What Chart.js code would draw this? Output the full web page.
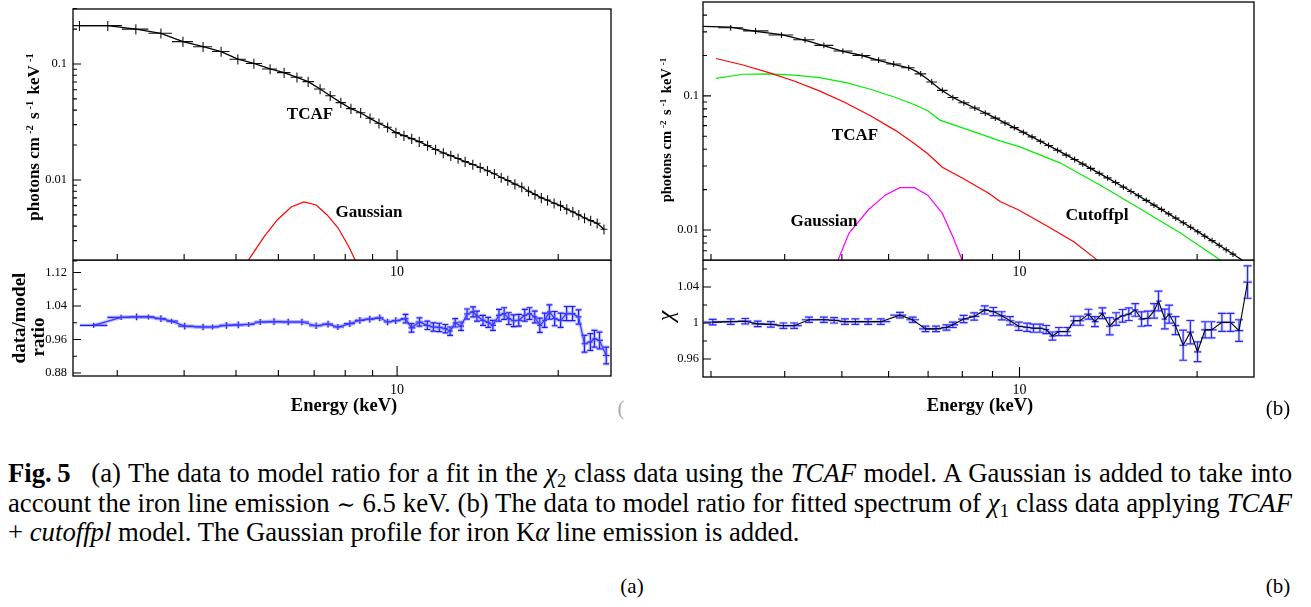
<!DOCTYPE html>
<html><head><meta charset="utf-8">
<script src="https://cdn.jsdelivr.net/npm/chart.js@4.4.1/dist/chart.umd.min.js"></script>
<style>
html,body{margin:0;padding:0;background:#fff;}
body{width:1311px;height:607px;overflow:hidden;position:relative;font-family:'Liberation Serif','Times New Roman',serif;color:#000;}
canvas{position:absolute;}
.t{position:absolute;white-space:nowrap;transform:translate(-50%,-50%);line-height:1;}
.r{transform:translate(-50%,-50%) rotate(-90deg);}
.b{font-weight:bold;}
.cap{position:absolute;left:8px;white-space:nowrap;font-size:22px;}
.sim{font-family:'DejaVu Serif',serif;font-size:0.85em;}
sup{font-size:0.62em;vertical-align:0.55em;margin-left:3px;margin-right:2px;}
sub{font-size:0.7em;vertical-align:-0.25em;}
</style></head><body>
<canvas id="aU" width="620" height="290" style="left:0px;top:0px;width:620px;height:290px"></canvas>
<canvas id="aL" width="620" height="160" style="left:0px;top:260px;width:620px;height:160px"></canvas>
<canvas id="bU" width="615" height="290" style="left:650px;top:0px;width:615px;height:290px"></canvas>
<canvas id="bL" width="615" height="160" style="left:650px;top:260px;width:615px;height:160px"></canvas>

<div class="t r b" style="left:33px;top:136px;font-size:17px;">photons cm<sup>-2</sup> s<sup>-1</sup> keV<sup>-1</sup></div>
<div class="t r b" style="left:17.5px;top:318px;font-size:19px;">data/model</div>
<div class="t r b" style="left:37px;top:337px;font-size:19px;">ratio</div>
<div class="t b" style="left:310px;top:113px;font-size:17px;">TCAF</div>
<div class="t b" style="left:369px;top:211px;font-size:17px;">Gaussian</div>
<div class="t b" style="left:344px;top:405px;font-size:18.5px;">Energy (keV)</div>
<div class="t" style="left:621px;top:408px;font-size:21px;color:#aaa;">(</div>

<div class="t r b" style="left:666px;top:129px;font-size:14.5px;">photons cm<sup>-2</sup> s<sup>-1</sup> keV<sup>-1</sup></div>
<div class="t r" style="left:665px;top:316px;font-size:24px;font-style:italic;">χ</div>
<div class="t b" style="left:855px;top:134px;font-size:17px;">TCAF</div>
<div class="t b" style="left:824px;top:220px;font-size:17px;">Gaussian</div>
<div class="t b" style="left:1097px;top:215px;font-size:17.5px;">Cutoffpl</div>
<div class="t b" style="left:980px;top:405px;font-size:18.5px;">Energy (keV)</div>
<div class="t" style="left:1278px;top:408px;font-size:21px;">(b)</div>

<div class="cap" id="c1"><b>Fig.&thinsp;5</b>&ensp; (a) The data to model ratio for a fit in the <i>χ</i><sub>2</sub> class data using the <i>TCAF</i> model. A Gaussian is added to take into</div>
<div class="cap" id="c2">account the iron line emission <span class="sim">∼</span> 6.5 keV. (b) The data to model ratio for fitted spectrum of <i>χ</i><sub>1</sub> class data applying <i>TCAF</i></div>
<div class="cap" id="c3">+ <i>cutoffpl</i> model. The Gaussian profile for iron K<i>α</i> line emission is added.</div>

<div class="t" style="left:632px;top:586px;font-size:21px;">(a)</div>
<div class="t" style="left:1278px;top:586px;font-size:21px;">(b)</div>

<script>
// ---------- DATA ----------
// Panel (a), upper: unfolded spectrum, TCAF + Gaussian
const energyA = [2.55, 2.88, 3.25, 3.62, 3.98, 4.34, 4.69, 5.04, 5.40, 5.79, 6.15, 6.50, 6.82, 7.18, 7.50, 7.85, 8.20, 8.55, 8.90, 9.25, 9.60, 9.95, 10.30, 10.65, 11.00, 11.40, 11.80, 12.20, 12.60, 13.00, 13.40, 13.85, 14.30, 14.75, 15.20, 15.65, 16.10, 16.60, 17.10, 17.60, 18.10, 18.60, 19.10, 19.65, 20.20, 20.75, 21.30, 21.85, 22.40, 23.00, 23.65, 24.35];
const fluxA = [0.214, 0.214, 0.200, 0.184, 0.156, 0.141, 0.128, 0.110, 0.101, 0.0906, 0.0842, 0.0768, 0.0704, 0.0609, 0.0533, 0.0464, 0.0412, 0.0380, 0.0340, 0.0308, 0.0285, 0.0256, 0.0241, 0.0227, 0.0214, 0.0198, 0.0183, 0.0171, 0.0162, 0.0153, 0.0144, 0.0136, 0.0128, 0.0120, 0.0113, 0.0105, 0.0099, 0.0092, 0.0087, 0.0080, 0.0075, 0.0070, 0.0067, 0.0063, 0.0060, 0.0056, 0.0053, 0.0050, 0.0047, 0.00446, 0.00423, 0.00376];
const fluxRelErrA = 0.10;
const gaussAE = [5.20, 5.31, 5.64, 5.97, 6.34, 6.70, 7.06, 7.40, 7.76, 8.13, 8.31, 8.45];
const gaussAF = [0.0018, 0.00213, 0.00323, 0.00452, 0.00585, 0.00646, 0.00608, 0.00499, 0.00385, 0.00264, 0.00213, 0.0018];

// Panel (a), lower: data/model ratio
const ratioAE = [2.71, 3.05, 3.26, 3.43, 3.62, 3.79, 4.01, 4.34, 4.52, 4.80, 5.05, 5.28, 5.55, 5.89, 6.26, 6.64, 7.06, 7.43, 7.75, 8.16, 8.52, 8.89, 9.28, 9.60, 9.94, 10.37, 10.64, 11.01, 11.39, 11.69, 11.99, 12.31, 12.56, 12.84, 13.17, 13.51, 13.87, 14.10, 14.47, 14.80, 15.10, 15.50, 15.85, 16.17, 16.51, 16.88, 17.32, 17.68, 18.08, 18.48, 18.87, 19.26, 19.70, 20.21, 20.74, 21.27, 21.83, 22.39, 22.97, 23.37, 23.89, 24.59];
const ratioA = [0.994, 1.013, 1.014, 1.014, 1.010, 1.004, 0.992, 0.990, 0.990, 0.994, 0.995, 0.996, 1.002, 1.003, 1.002, 1.002, 0.993, 0.997, 0.990, 0.998, 1.006, 1.009, 1.012, 1.002, 1.005, 1.010, 0.988, 1.002, 0.994, 0.990, 0.989, 0.986, 0.980, 1.000, 0.992, 1.021, 1.026, 1.016, 1.006, 1.001, 0.994, 1.018, 1.022, 1.010, 1.005, 1.006, 1.018, 1.022, 1.014, 0.994, 1.006, 1.026, 1.010, 1.006, 1.022, 1.022, 1.014, 0.950, 0.954, 0.962, 0.958, 0.922];
const ratioAErr = [0.006, 0.006, 0.008, 0.006, 0.008, 0.006, 0.008, 0.008, 0.006, 0.008, 0.008, 0.006, 0.007, 0.008, 0.008, 0.008, 0.008, 0.008, 0.007, 0.008, 0.008, 0.008, 0.008, 0.008, 0.008, 0.010, 0.010, 0.010, 0.010, 0.010, 0.010, 0.010, 0.010, 0.010, 0.010, 0.012, 0.012, 0.012, 0.012, 0.012, 0.012, 0.014, 0.014, 0.014, 0.014, 0.014, 0.014, 0.014, 0.014, 0.017, 0.017, 0.017, 0.017, 0.017, 0.017, 0.017, 0.017, 0.020, 0.020, 0.020, 0.020, 0.020];

// Panel (b), upper: data, total model and components
const energyBu = [3.24, 3.57, 3.95, 4.33, 4.66, 5.02, 5.41, 5.77, 6.12, 6.49, 6.80, 7.10, 7.40, 7.71, 8.05, 8.40, 8.75, 9.10, 9.45, 9.80, 10.15, 10.50, 10.85, 11.20, 11.60, 12.00, 12.40, 12.80, 13.20, 13.65, 14.10, 14.55, 15.00, 15.45, 15.90, 16.40, 16.90, 17.40, 17.90, 18.40, 18.95, 19.50, 20.05, 20.60, 21.20, 21.80, 22.40, 23.00];
const fluxBu = [0.322, 0.305, 0.284, 0.262, 0.238, 0.216, 0.200, 0.185, 0.173, 0.162, 0.146, 0.127, 0.110, 0.0972, 0.0888, 0.0812, 0.0743, 0.0683, 0.0628, 0.0580, 0.0536, 0.0495, 0.0459, 0.0427, 0.0393, 0.0362, 0.0336, 0.0310, 0.0288, 0.0265, 0.0245, 0.0226, 0.0209, 0.0194, 0.0180, 0.01665, 0.01535, 0.01426, 0.0132, 0.01227, 0.01133, 0.0105, 0.0097, 0.0090, 0.00834, 0.0077, 0.00713, 0.00662];
const fluxRelErrB = 0.05;
const modelBE = [2.91, 3.24, 3.57, 3.95, 4.40, 4.70, 5.02, 5.41, 5.77, 6.12, 6.49, 6.71, 6.99, 7.34, 7.71, 8.10, 8.45, 8.88, 9.27, 9.72, 10.58, 11.57, 12.57, 13.80, 15.32, 16.91, 18.68, 20.46, 22.78, 23.37, 23.80];
const modelBF = [0.330, 0.325, 0.303, 0.286, 0.255, 0.234, 0.215, 0.200, 0.184, 0.172, 0.162, 0.151, 0.133, 0.112, 0.0972, 0.0876, 0.0802, 0.0721, 0.0656, 0.0590, 0.0487, 0.0396, 0.0325, 0.0258, 0.0199, 0.01535, 0.01177, 0.0092, 0.0068, 0.00632, 0.0060];
const tcafBE = [3.06, 3.40, 3.76, 4.15, 4.58, 5.06, 5.59, 6.17, 6.64, 6.99, 7.40, 8.04, 8.88, 9.27, 9.97, 11.19, 12.36, 13.40, 13.70];
const tcafBF = [0.190, 0.170, 0.149, 0.129, 0.109, 0.0892, 0.0711, 0.0551, 0.0439, 0.0370, 0.0294, 0.0241, 0.0187, 0.0163, 0.0141, 0.0106, 0.00818, 0.0062, 0.0057];
const cutBE = [3.06, 3.40, 3.76, 4.15, 4.58, 5.06, 5.59, 6.17, 6.64, 6.99, 7.33, 8.57, 9.27, 10.02, 11.71, 13.69, 16.01, 18.71, 21.61, 22.00];
const cutBF = [0.135, 0.145, 0.146, 0.143, 0.137, 0.126, 0.112, 0.0972, 0.0858, 0.0774, 0.0660, 0.0521, 0.0462, 0.0417, 0.0317, 0.0217, 0.0144, 0.00955, 0.00622, 0.0058];
const gaussBE = [4.90, 4.94, 5.14, 5.54, 5.92, 6.27, 6.64, 6.99, 7.40, 7.71, 7.97, 8.01];
const gaussBF = [0.0056, 0.00616, 0.00946, 0.0141, 0.0182, 0.0207, 0.0207, 0.0182, 0.0133, 0.0089, 0.00616, 0.0056];

// Panel (b), lower: chi
const ratioBE = [3.02, 3.24, 3.43, 3.60, 3.79, 3.98, 4.15, 4.40, 4.66, 4.85, 5.06, 5.27, 5.54, 5.82, 6.27, 6.59, 6.93, 7.22, 7.52, 7.71, 8.04, 8.38, 8.73, 9.03, 9.33, 9.64, 9.97, 10.30, 10.56, 10.83, 11.10, 11.37, 11.66, 12.05, 12.36, 12.67, 13.09, 13.42, 13.82, 14.22, 14.58, 14.95, 15.32, 15.71, 16.10, 16.50, 16.91, 17.20, 17.63, 17.93, 18.38, 18.94, 19.48, 20.03, 20.63, 21.15, 22.03, 22.78, 23.55, 24.35];
const ratioB = [1.001, 1.0015, 1.002, 0.999, 0.9985, 0.997, 0.997, 1.0036, 1.0036, 1.003, 1.0015, 1.0015, 1.0015, 1.0015, 1.0087, 1.0036, 0.9935, 0.9935, 0.995, 0.998, 1.0044, 1.0073, 1.0145, 1.0127, 1.008, 1.0025, 0.9964, 0.9953, 0.9942, 0.9942, 0.9927, 0.9855, 0.9905, 0.9905, 1.0025, 1.0025, 1.0098, 1.0015, 1.0109, 0.9964, 1.0044, 1.008, 1.0098, 1.0145, 1.0044, 1.0051, 1.0135, 1.0244, 1.0044, 1.0098, 0.9971, 0.9753, 0.9898, 0.968, 0.9924, 0.9924, 1.0007, 1.0007, 0.9916, 1.0455];
const ratioBErr = [0.003, 0.003, 0.003, 0.003, 0.003, 0.003, 0.003, 0.003, 0.003, 0.003, 0.003, 0.003, 0.003, 0.003, 0.003, 0.003, 0.003, 0.003, 0.003, 0.003, 0.004, 0.004, 0.0045, 0.0045, 0.0045, 0.0045, 0.0045, 0.0045, 0.0045, 0.0045, 0.0045, 0.0045, 0.0045, 0.0045, 0.005, 0.005, 0.0055, 0.0055, 0.006, 0.0095, 0.007, 0.007, 0.007, 0.007, 0.008, 0.008, 0.008, 0.011, 0.011, 0.010, 0.010, 0.0167, 0.013, 0.011, 0.009, 0.009, 0.010, 0.010, 0.012, 0.018];

// Axis ticks
const xTickValues = [10];
const xTickLabels = ['10'];
const xMinorTicks = [3, 4, 5, 6, 7, 8, 9, 20];
const yTicksAU = [0.01, 0.1];
const yLabelsAU = ['0.01', '0.1'];
const yMinorAU = [0.002, 0.003, 0.004, 0.005, 0.006, 0.007, 0.008, 0.009, 0.02, 0.03, 0.04, 0.05, 0.06, 0.07, 0.08, 0.09, 0.2, 0.3];
const yTicksAL = [0.88, 0.96, 1.04, 1.12];
const yLabelsAL = ['0.88', '0.96', '1.04', '1.12'];
const yMinorAL = [0.92, 1.00, 1.08];
const yTicksBU = [0.01, 0.1];
const yLabelsBU = ['0.01', '0.1'];
const yMinorBU = [0.007, 0.008, 0.009, 0.02, 0.03, 0.04, 0.05, 0.06, 0.07, 0.08, 0.09, 0.2, 0.3, 0.4];
const yTicksBL = [0.96, 1, 1.04];
const yLabelsBL = ['0.96', '1', '1.04'];
const yMinorBL = [0.98, 1.02, 1.06];

// ---------- helpers ----------
const FONT = "'Liberation Serif', 'Times New Roman', serif";
const pts = (xs, ys) => xs.map((x, i) => ({x: x, y: ys[i]}));

const framePlugin = {
  id: 'frame',
  afterDraw(chart, args, o) {
    const {ctx, chartArea: a, scales} = chart;
    ctx.save();
    ctx.strokeStyle = '#000';
    ctx.lineWidth = 1.3;
    ctx.strokeRect(a.left, a.top, a.right - a.left, a.bottom - a.top);
    ctx.lineWidth = 1.1;
    ctx.beginPath();
    const X = scales.x, Y = scales.y;
    (o.xMajor || []).forEach(v => { const p = X.getPixelForValue(v); ctx.moveTo(p, a.bottom); ctx.lineTo(p, a.bottom - o.xMajLen); });
    (o.xMinor || []).forEach(v => { const p = X.getPixelForValue(v); ctx.moveTo(p, a.bottom); ctx.lineTo(p, a.bottom - o.xMinLen); });
    (o.yMajor || []).forEach(v => { const p = Y.getPixelForValue(v); ctx.moveTo(a.left, p); ctx.lineTo(a.left + o.yMajLen, p); });
    (o.yMinor || []).forEach(v => { const p = Y.getPixelForValue(v); ctx.moveTo(a.left, p); ctx.lineTo(a.left + o.yMinLen, p); });
    ctx.stroke();
    ctx.restore();
  }
};

const errPlugin = {
  id: 'errbars',
  beforeDatasetsDraw(chart) {
    const {ctx, chartArea: a, scales} = chart;
    const X = scales.x, Y = scales.y;
    ctx.save();
    ctx.beginPath();
    ctx.rect(a.left, a.top, a.right - a.left, a.bottom - a.top);
    ctx.clip();
    chart.data.datasets.forEach(ds => {
      const e = ds.eb;
      if (!e) return;
      const xs = e.x, ys = e.y, n = xs.length;
      const passes = e.halo ? [[e.halo, e.haloW], [e.color, e.w]] : [[e.color, e.w]];
      passes.forEach(([col, w]) => {
        ctx.strokeStyle = col;
        ctx.lineWidth = w;
        ctx.beginPath();
        for (let i = 0; i < n; i++) {
          const lo = i > 0 ? Math.sqrt(xs[i - 1] * xs[i]) : xs[i] * Math.sqrt(xs[i] / xs[i + 1]);
          const hi = i < n - 1 ? Math.sqrt(xs[i] * xs[i + 1]) : xs[i] * Math.sqrt(xs[i] / xs[i - 1]);
          const up = e.err ? ys[i] + e.err[i] : ys[i] * (1 + e.rel);
          const dn = e.err ? ys[i] - e.err[i] : ys[i] * (1 - e.rel);
          const px = X.getPixelForValue(xs[i]), py = Y.getPixelForValue(ys[i]);
          const pl = X.getPixelForValue(lo), pr = X.getPixelForValue(hi);
          const pt = Y.getPixelForValue(up), pb = Y.getPixelForValue(dn);
          ctx.moveTo(pl, py); ctx.lineTo(pr, py);
          ctx.moveTo(px, pt); ctx.lineTo(px, pb);
          if (e.cap && xs[i] >= e.capMin) {
            ctx.moveTo(px - e.cap, pt); ctx.lineTo(px + e.cap, pt);
            ctx.moveTo(px - e.cap, pb); ctx.lineTo(px + e.cap, pb);
          }
        }
        ctx.stroke();
      });
    });
    ctx.restore();
  }
};

function lineDS(xs, ys, color, w) {
  return {data: pts(xs, ys), showLine: true, borderColor: color, borderWidth: w, pointRadius: 0, tension: 0, fill: false};
}

function makeChart(id, c) {
  return new Chart(document.getElementById(id), {
    type: 'scatter',
    data: {datasets: c.datasets},
    options: {
      responsive: false, animation: false, events: [],
      layout: {padding: c.pad, autoPadding: false},
      plugins: {legend: {display: false}, tooltip: {enabled: false}, frame: c.frame},
      scales: {
        x: {
          type: 'logarithmic', min: c.xmin, max: c.xmax,
          grid: {display: false, drawTicks: false}, border: {display: false},
          afterFit: s => { s.height = c.xh; s.paddingLeft = 0; s.paddingRight = 0; },
          afterBuildTicks: s => { s.ticks = xTickValues.map(v => ({value: v})); },
          ticks: {autoSkip: false, maxRotation: 0, padding: c.xpad, color: '#000',
                  font: {family: FONT, size: 14},
                  callback: (v, i) => xTickLabels[i]}
        },
        y: {
          type: c.ylog ? 'logarithmic' : 'linear', min: c.ymin, max: c.ymax,
          grid: {display: false, drawTicks: false}, border: {display: false},
          afterFit: s => { s.width = c.yw; s.paddingTop = 0; s.paddingBottom = 0; },
          afterBuildTicks: s => { s.ticks = c.yTicks.map(v => ({value: v})); },
          ticks: {autoSkip: false, padding: c.ypad, color: '#000',
                  font: {family: FONT, size: 12.5},
                  callback: (v, i) => c.yLabels[i]}
        }
      }
    },
    plugins: [errPlugin, framePlugin]
  });
}

// ---------- Panel (a) ----------
const dsAData = lineDS(energyA, fluxA, '#000', 1.3);
dsAData.eb = {x: energyA, y: fluxA, rel: fluxRelErrA, color: '#111', w: 1.1};
makeChart('aU', {
  pad: {left: 0, top: 9, right: 9, bottom: 0}, yw: 73, xh: 30, xpad: 4, ypad: 6,
  xmin: 2.48, xmax: 25.1, ylog: true, ymin: 0.00204, ymax: 0.298,
  yTicks: yTicksAU, yLabels: yLabelsAU,
  frame: {xMajor: xTickValues, xMinor: xMinorTicks, yMajor: yTicksAU, yMinor: yMinorAU, xMajLen: 10, xMinLen: 6, yMajLen: 8, yMinLen: 4},
  datasets: [dsAData, lineDS(gaussAE, gaussAF, '#ff0000', 1.2)]
});

const dsAHalo = lineDS(ratioAE, ratioA, 'rgba(110,110,255,0.35)', 4);
const dsARatio = lineDS(ratioAE, ratioA, '#1a1aff', 1.2);
dsARatio.eb = {x: ratioAE, y: ratioA, err: ratioAErr, color: '#1a1aff', w: 1.2, halo: 'rgba(110,110,255,0.35)', haloW: 3.5, cap: 3, capMin: 10};
makeChart('aL', {
  pad: {left: 0, top: 0, right: 9, bottom: 0}, yw: 73, xh: 44, xpad: 6, ypad: 6,
  xmin: 2.48, xmax: 25.1, ylog: false, ymin: 0.873, ymax: 1.150,
  yTicks: yTicksAL, yLabels: yLabelsAL,
  frame: {xMajor: xTickValues, xMinor: xMinorTicks, yMajor: yTicksAL, yMinor: yMinorAL, xMajLen: 10, xMinLen: 6, yMajLen: 8, yMinLen: 4},
  datasets: [dsAHalo, dsARatio]
});

// ---------- Panel (b) ----------
const dsBData = {data: pts(energyBu, fluxBu), showLine: false, pointRadius: 0};
dsBData.eb = {x: energyBu, y: fluxBu, rel: fluxRelErrB, color: '#111', w: 1.1};
makeChart('bU', {
  pad: {left: 0, top: 2, right: 11, bottom: 0}, yw: 53, xh: 30, xpad: 4, ypad: 4,
  xmin: 2.908, xmax: 24.97, ylog: true, ymin: 0.00598, ymax: 0.501,
  yTicks: yTicksBU, yLabels: yLabelsBU,
  frame: {xMajor: xTickValues, xMinor: xMinorTicks, yMajor: yTicksBU, yMinor: yMinorBU, xMajLen: 10, xMinLen: 6, yMajLen: 8, yMinLen: 4},
  datasets: [
    dsBData,
    lineDS(modelBE, modelBF, '#000', 1.3),
    lineDS(tcafBE, tcafBF, '#ff0000', 1.2),
    lineDS(cutBE, cutBF, '#00ee00', 1.2),
    lineDS(gaussBE, gaussBF, '#ff00ff', 1.2)
  ]
});

const dsBRatio = lineDS(ratioBE, ratioB, '#000', 1.1);
dsBRatio.eb = {x: ratioBE, y: ratioB, err: ratioBErr, color: '#2a2aff', w: 1.2, halo: 'rgba(110,110,255,0.3)', haloW: 3, cap: 4, capMin: 0};
makeChart('bL', {
  pad: {left: 0, top: 0, right: 11, bottom: 0}, yw: 53, xh: 43, xpad: 5, ypad: 4,
  xmin: 2.908, xmax: 24.97, ylog: false, ymin: 0.940, ymax: 1.070,
  yTicks: yTicksBL, yLabels: yLabelsBL,
  frame: {xMajor: xTickValues, xMinor: xMinorTicks, yMajor: yTicksBL, yMinor: yMinorBL, xMajLen: 10, xMinLen: 6, yMajLen: 8, yMinLen: 4},
  datasets: [dsBRatio]
});

// ---------- caption fitting ----------
(function fitCaption() {
  const lines = [document.getElementById('c1'), document.getElementById('c2'), document.getElementById('c3')];
  let fs = 22;
  const w3 = lines[2].getBoundingClientRect().width;
  fs = fs * 792 / w3;
  const centers = [473, 503, 532];
  lines.forEach((l, i) => {
    l.style.fontSize = fs + 'px';
    l.style.lineHeight = fs + 'px';
    l.style.top = (centers[i] - fs * 0.5) + 'px';
  });
  [0, 1].forEach(i => {
    const l = lines[i];
    const w = l.getBoundingClientRect().width;
    const n = (l.textContent.match(/[ \u00a0]/g) || []).length;
    l.style.wordSpacing = ((1284 - w) / n) + 'px';
  });
})();
</script>
</body></html>
